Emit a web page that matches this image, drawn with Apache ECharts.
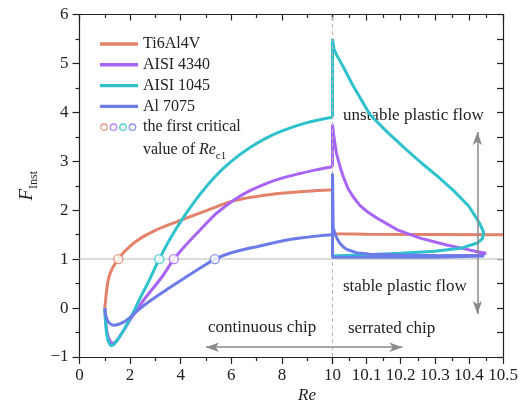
<!DOCTYPE html>
<html>
<head>
<meta charset="utf-8">
<script src="https://cdn.jsdelivr.net/npm/echarts@6/dist/echarts.min.js"></script>
<style>
  html, body { margin: 0; background: #fff; }
  #chart { width: 525px; height: 408px; }
</style>
</head>
<body>
<div id="chart"></div>
<script>
// Re axis is broken at 10: left part 0..10, right part 10..10.5
const materials = ["Ti6Al4V", "AISI 4340", "AISI 1045", "Al 7075"];
const colors = ["#e2826b", "#a865f5", "#2fc2cc", "#6b7ce8"];

const xTicksLeft = [0, 2, 4, 6, 8, 10];
const xTicksRight = [10.1, 10.2, 10.3, 10.4, 10.5];

// continuous chip branch, Re <= 10
const ti6al4vLeft = [[1.0, 0], [1.03, 0.15], [1.08, 0.4], [1.14, 0.58], [1.22, 0.72], [1.35, 0.86], [1.53, 1.0], [1.7, 1.11], [1.93, 1.23], [2.2, 1.35], [2.59, 1.48], [3.0, 1.59], [3.51, 1.7], [4.17, 1.83], [4.96, 1.98], [6.08, 2.19], [7.0, 2.28], [8.06, 2.35], [9.0, 2.39], [10.0, 2.42]];
const aisi4340Left = [[1.0, 0], [1.04, -0.3], [1.1, -0.52], [1.2, -0.67], [1.32, -0.72], [1.45, -0.68], [1.65, -0.53], [1.85, -0.37], [2.06, -0.19], [2.3, -0.01], [2.59, 0.2], [3.25, 0.63], [3.73, 1.0], [4.17, 1.27], [4.83, 1.63], [5.4, 1.93], [6.08, 2.2], [6.7, 2.39], [7.4, 2.55], [8.1, 2.67], [8.72, 2.75], [9.3, 2.82], [10.0, 2.89]];
const aisi1045Left = [[1.0, 0], [1.03, -0.3], [1.08, -0.55], [1.16, -0.7], [1.27, -0.77], [1.4, -0.72], [1.67, -0.52], [1.93, -0.28], [2.19, -0.02], [2.45, 0.26], [2.72, 0.53], [3.15, 1.0], [3.64, 1.47], [4.17, 1.9], [4.8, 2.35], [5.42, 2.72], [6.0, 3.0], [6.74, 3.28], [7.4, 3.48], [8.06, 3.63], [9.0, 3.79], [10.0, 3.9]];
const al7075Left = [[1.0, 0], [1.03, -0.12], [1.08, -0.22], [1.17, -0.3], [1.34, -0.35], [1.55, -0.33], [1.8, -0.27], [2.05, -0.17], [2.32, -0.04], [2.85, 0.17], [3.51, 0.4], [4.17, 0.62], [4.96, 0.88], [5.35, 1.0], [6.0, 1.13], [7.13, 1.27], [8.0, 1.37], [8.72, 1.43], [9.5, 1.48], [10.0, 1.5]];

// serrated chip branch, Re >= 10
const ti6al4vRight = [[10.0, 2.42], [10.0, 1.55], [10.01, 1.52], [10.1, 1.51], [10.5, 1.5]];
const aisi4340Right = [[10.0, 2.89], [10.0, 3.75], [10.004, 3.5], [10.012, 3.15], [10.022, 2.89], [10.032, 2.68], [10.045, 2.45], [10.06, 2.28], [10.08, 2.1], [10.1, 1.98], [10.13, 1.84], [10.16, 1.72], [10.19, 1.6], [10.257, 1.43], [10.335, 1.29], [10.394, 1.2], [10.425, 1.15], [10.45, 1.12], [10.43, 1.08], [10.3, 1.065], [10.1, 1.06], [10.0, 1.06]];
const aisi1045Right = [[10.0, 3.9], [10.0, 5.5], [10.004, 5.3], [10.01, 5.2], [10.03, 4.95], [10.06, 4.55], [10.11, 3.95], [10.16, 3.6], [10.21, 3.28], [10.26, 2.97], [10.31, 2.68], [10.355, 2.4], [10.4, 2.08], [10.43, 1.75], [10.443, 1.55], [10.44, 1.42], [10.425, 1.33], [10.38, 1.23], [10.3, 1.16], [10.2, 1.12], [10.1, 1.09], [10.02, 1.07], [10.0, 1.065]];
const al7075Right = [[10.0, 1.5], [10.0, 2.75], [10.002, 1.65], [10.007, 1.52], [10.015, 1.4], [10.022, 1.32], [10.032, 1.25], [10.042, 1.2], [10.07, 1.13], [10.11, 1.1], [10.2, 1.085], [10.3, 1.075], [10.4, 1.07], [10.445, 1.065], [10.44, 1.045], [10.3, 1.04], [10.1, 1.04], [10.0, 1.04], [10.0, 1.5]];

// first critical value Re_c1 (F = 1)
const criticalRe = [1.53, 3.73, 3.15, 5.35];
const criticalF = [1, 1, 1, 1];

const leftCurves = [ti6al4vLeft, aisi4340Left, aisi1045Left, al7075Left];
const rightCurves = [ti6al4vRight, aisi4340Right, aisi1045Right, al7075Right];

const FONT = "Liberation Serif";
const INK = "#222";
const criticalName = "the first critical";

const circlesSvg = `<svg xmlns='http://www.w3.org/2000/svg' width='38' height='14' viewBox='0 0 38 14'>` +
  colors.map((c, i) => `<circle cx='${4 + i * 9.5}' cy='7' r='3.2' fill='white' stroke='${c}' stroke-width='1.3'/>`).join("") +
  `</svg>`;
const circlesIcon = "image://data:image/svg+xml;charset=utf-8," + encodeURIComponent(circlesSvg);
const lineIcon = "path://M0,0H38V3.4H0Z";

const minusFmt = (v) => (v < 0 ? "\u2212" + Math.abs(v) : String(v));

const bottomAxis = (gridIndex, min, max, interval, labelFmt, showMin) => ({
  type: "value", gridIndex, min, max, interval, position: "bottom",
  axisLine: { onZero: false, lineStyle: { color: INK, width: 1.2 } },
  axisTick: { inside: false, length: 7, lineStyle: { color: INK, width: 1.2 } },
  minorTick: { show: true, splitNumber: 2, length: 4, lineStyle: { color: INK, width: 1.2 } },
  axisLabel: { color: INK, fontFamily: FONT, fontSize: 17, margin: 10, showMinLabel: showMin, formatter: labelFmt },
  splitLine: { show: false },
});
const topAxis = (gridIndex, min, max, interval) => ({
  type: "value", gridIndex, min, max, interval, position: "top",
  axisLine: { onZero: false, lineStyle: { color: INK, width: 1.2 } },
  axisTick: { inside: true, length: 6, lineStyle: { color: INK, width: 1.2 } },
  minorTick: { show: true, splitNumber: 2, length: 3.5, lineStyle: { color: INK, width: 1.2 } },
  axisLabel: { show: false },
  splitLine: { show: false },
});

const series = [];

// reference lines and arrows
series.push({
  type: "line", xAxisIndex: 0, yAxisIndex: 0, data: [], silent: true, z: 1,
  markLine: {
    silent: true, symbol: "none", animation: false, label: { show: false },
    data: [
      { yAxis: 1, lineStyle: { color: "#cfcfcf", width: 1.5, type: "solid" } },
      [{ coord: [5.0, -0.8], symbol: "arrow", symbolSize: [7, 13] }, { coord: [10, -0.8], symbol: "none" }],
    ],
    lineStyle: { color: "#8a8a8a", width: 1.5, type: "solid" },
  },
});
series.push({
  type: "line", xAxisIndex: 2, yAxisIndex: 1, data: [], silent: true, z: 1,
  markLine: {
    silent: true, symbol: "none", animation: false, label: { show: false },
    data: [
      { yAxis: 1, lineStyle: { color: "#cfcfcf", width: 1.5, type: "solid" } },
      { xAxis: 10, lineStyle: { color: "#b5b5b5", width: 1, type: [4, 3] } },
      [{ coord: [10, -0.8], symbol: "none" }, { coord: [10.205, -0.8], symbol: "arrow", symbolSize: [7, 13] }],
      [{ coord: [10.425, -0.12], symbol: "arrow", symbolSize: [7, 13] }, { coord: [10.425, 3.6], symbol: "arrow", symbolSize: [7, 13] }],
    ],
    lineStyle: { color: "#8a8a8a", width: 1.5, type: "solid" },
  },
});

materials.forEach((name, i) => {
  const common = {
    name, type: "line", symbol: "none", showSymbol: false, clip: false,
    lineStyle: { width: 3, color: colors[i] }, itemStyle: { color: colors[i] },
    z: 2 + i, animation: false,
  };
  series.push({ ...common, xAxisIndex: 0, yAxisIndex: 0, smooth: 0.3, data: leftCurves[i] });
  series.push({ ...common, xAxisIndex: 2, yAxisIndex: 1, smooth: false, data: rightCurves[i] });
});

series.push({
  name: criticalName, type: "scatter", xAxisIndex: 0, yAxisIndex: 0, z: 10,
  symbol: "circle", symbolSize: 9, animation: false,
  data: criticalRe.map((x, i) => ({
    value: [x, criticalF[i]],
    itemStyle: { color: "#fff", borderColor: colors[i], borderWidth: 1.4 },
  })),
});

const option = {
  backgroundColor: "#fff",
  animation: false,
  grid: [
    { left: 79.5, top: 14.5, width: 253, height: 342.5 },
    { left: 332.5, top: 14.5, width: 170.5, height: 342.5 },
  ],
  xAxis: [
    bottomAxis(0, xTicksLeft[0], xTicksLeft[xTicksLeft.length - 1], 2, (v) => String(v), true),
    topAxis(0, 0, 10, 2),
    bottomAxis(1, 10, xTicksRight[xTicksRight.length - 1], 0.1, (v) => v.toFixed(1), false),
    topAxis(1, 10, 10.5, 0.1),
  ],
  yAxis: [
    {
      type: "value", gridIndex: 0, min: -1, max: 6, interval: 1, position: "left",
      name: "{f|F}{s|Inst}", nameLocation: "middle", nameRotate: 90, nameGap: 40,
      nameTextStyle: {
        rich: {
          f: { fontFamily: FONT, fontStyle: "italic", fontSize: 19, color: INK, lineHeight: 22, verticalAlign: "top" },
          s: { fontFamily: FONT, fontSize: 12, color: INK, lineHeight: 12, verticalAlign: "bottom" },
        },
      },
      axisLine: { onZero: false, lineStyle: { color: INK, width: 1.2 } },
      axisTick: { inside: false, length: 7, lineStyle: { color: INK, width: 1.2 } },
      minorTick: { show: true, splitNumber: 2, length: 4, lineStyle: { color: INK, width: 1.2 } },
      axisLabel: { color: INK, fontFamily: FONT, fontSize: 17, margin: 11, formatter: minusFmt },
      splitLine: { show: false },
    },
    {
      type: "value", gridIndex: 1, min: -1, max: 6, interval: 0.5, position: "right",
      axisLine: { onZero: false, lineStyle: { color: INK, width: 1.2 } },
      axisTick: { inside: true, length: 6, lineStyle: { color: INK, width: 1.2 } },
      axisLabel: { show: false },
      splitLine: { show: false },
    },
  ],
  legend: {
    orient: "vertical", left: 100, top: 36, padding: 0,
    itemWidth: 38, itemHeight: 14, itemGap: 4.8,
    textStyle: { fontFamily: FONT, fontSize: 16, color: INK },
    selectedMode: false,
    data: [
      ...materials.map((name) => ({ name, icon: lineIcon })),
      { name: criticalName, icon: circlesIcon },
    ],
  },
  graphic: [
    {
      type: "text", left: 143, top: 142,
      style: {
        text: "{a|value of }{i|Re}{s|c1}",
        rich: {
          a: { fontFamily: FONT, fontSize: 16, fill: INK, lineHeight: 20, verticalAlign: "top" },
          i: { fontFamily: FONT, fontSize: 16, fontStyle: "italic", fill: INK, lineHeight: 20, verticalAlign: "top" },
          s: { fontFamily: FONT, fontSize: 11, fill: INK, lineHeight: 11, verticalAlign: "bottom" },
        },
      },
    },
    { type: "text", left: 343, top: 107, style: { text: "unstable plastic flow", font: `17px "${FONT}"`, fill: INK } },
    { type: "text", left: 343, top: 278, style: { text: "stable plastic flow", font: `17px "${FONT}"`, fill: INK } },
    { type: "text", left: 208, top: 319, style: { text: "continuous chip", font: `17px "${FONT}"`, fill: INK } },
    { type: "text", left: 348, top: 320, style: { text: "serrated chip", font: `17px "${FONT}"`, fill: INK } },
    { type: "text", left: 298, top: 387, style: { text: "Re", font: `italic 17px "${FONT}"`, fill: INK } },
  ],
  series,
};

const chart = echarts.init(document.getElementById("chart"), null, { renderer: "canvas" });
chart.setOption(option);
</script>
</body>
</html>
